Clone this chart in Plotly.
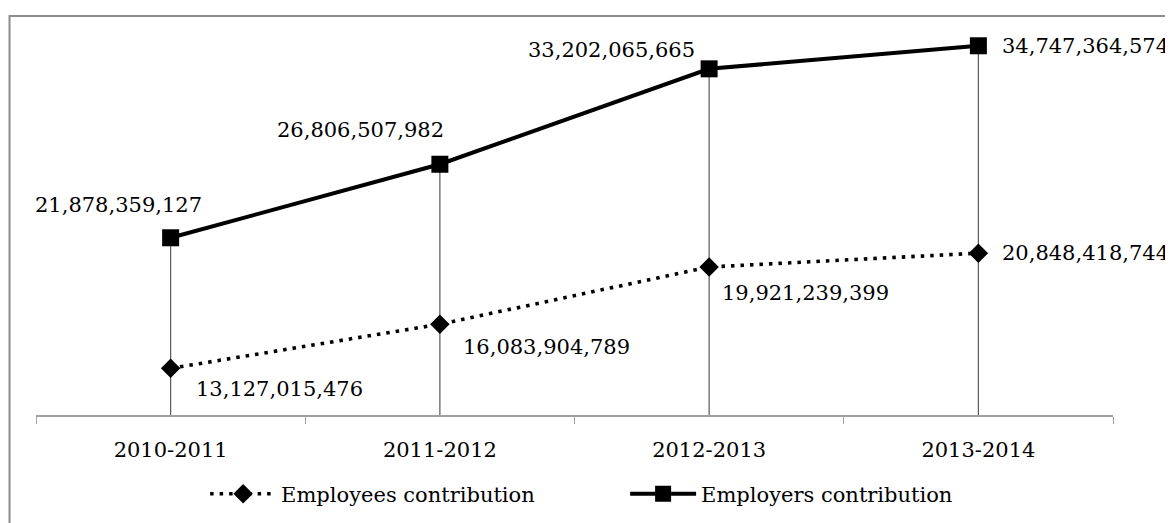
"""
plot.py - Employees vs employers contribution line chart with drop lines.
"""

import plotly.graph_objects as go

YEARS = ["2010-2011", "2011-2012", "2012-2013", "2013-2014"]
EMPLOYEES = [13127015476, 16083904789, 19921239399, 20848418744]
EMPLOYERS = [21878359127, 26806507982, 33202065665, 34747364574]

Y_MIN = 10e9
Y_MAX = 35e9

FONT = "DejaVu Serif"
GREY = "#8c8c8c"

# label offsets (px) relative to each marker
EMPLOYER_SHIFT = [(-52, 33), (-79, 34), (-98, 19), (107, 0)]
EMPLOYEE_SHIFT = [(109, -21), (107, -23), (96, -26), (107, 0)]

fig = go.Figure()

# --- drop lines from the upper series down to the axis ---
fig.add_trace(
    go.Scatter(
        x=YEARS,
        y=EMPLOYERS,
        mode="markers",
        marker={"size": 1, "opacity": 0},
        error_y={
            "type": "data",
            "symmetric": False,
            "array": [0] * len(EMPLOYERS),
            "arrayminus": [v - Y_MIN for v in EMPLOYERS],
            "color": "#595959",
            "thickness": 1.2,
            "width": 0,
        },
        showlegend=False,
        hoverinfo="skip",
        cliponaxis=False,
    )
)

fig.add_trace(
    go.Scatter(
        x=YEARS,
        y=EMPLOYEES,
        name="Employees contribution",
        mode="lines+markers",
        line={"color": "black", "width": 3.6, "dash": "3.5px,6px"},
        marker={"symbol": "diamond", "size": 15, "color": "black"},
        cliponaxis=False,
    )
)

fig.add_trace(
    go.Scatter(
        x=YEARS,
        y=EMPLOYERS,
        name="Employers contribution",
        mode="lines+markers",
        line={"color": "black", "width": 4},
        marker={"symbol": "square", "size": 17, "color": "black"},
        cliponaxis=False,
    )
)

# --- data labels ---
for series, shifts in ((EMPLOYERS, EMPLOYER_SHIFT), (EMPLOYEES, EMPLOYEE_SHIFT)):
    for year, val, (dx, dy) in zip(YEARS, series, shifts):
        fig.add_annotation(
            x=year,
            y=val,
            text=f"{val:,}",
            showarrow=False,
            xshift=dx,
            yshift=dy,
            font={"family": FONT, "size": 21, "color": "black"},
        )

# outer chart border (right and bottom edges fall outside the view)
fig.add_shape(
    type="rect",
    xref="paper",
    yref="paper",
    x0=-0.0246,
    x1=1.2,
    y0=-0.5,
    y1=1.07,
    line={"color": GREY, "width": 2},
    layer="below",
)

# page body has an 8px margin, so the figure is 8px smaller than the window
fig.update_layout(
    width=1165,
    height=515,
    margin={"l": 28, "r": 60, "t": 34, "b": 108, "autoexpand": False},
    paper_bgcolor="white",
    plot_bgcolor="white",
    font={"family": FONT, "size": 21, "color": "black"},
    showlegend=True,
    legend={
        "orientation": "h",
        "x": 0.547,
        "xanchor": "center",
        "y": -0.212,
        "yanchor": "middle",
        "font": {"family": FONT, "size": 21},
        "itemwidth": 66,
        "entrywidth": 339,
        "bgcolor": "rgba(0,0,0,0)",
    },
)
fig.update_xaxes(
    type="category",
    range=[-0.5, 3.5],
    showline=True,
    linecolor="#a0a0a0",
    linewidth=1.5,
    ticks="outside",
    tickson="boundaries",
    ticklen=7,
    tickcolor="#a0a0a0",
    showgrid=False,
    zeroline=False,
    ticklabelstandoff=15,
)
fig.update_yaxes(range=[Y_MIN, Y_MAX], visible=False, showgrid=False, zeroline=False)

fig.write_html("out.html")
